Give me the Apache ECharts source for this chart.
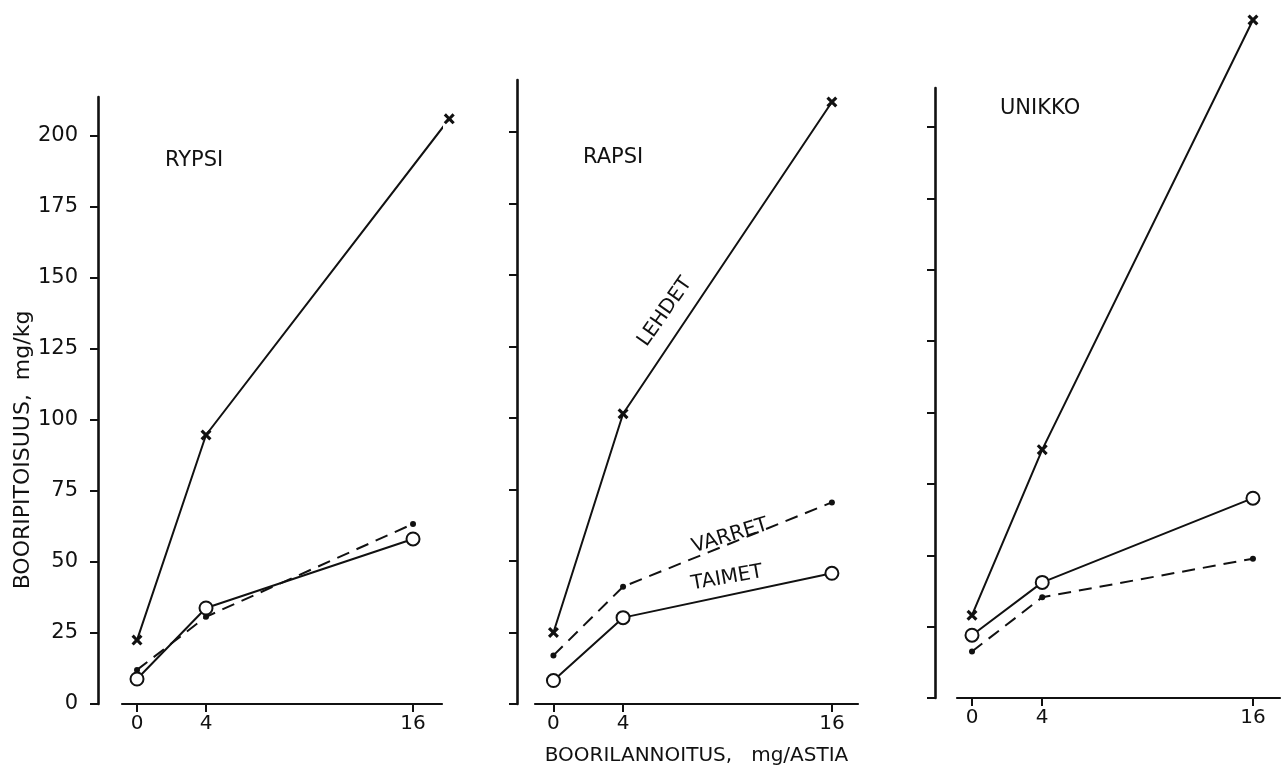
<!DOCTYPE html>
<html>
<head>
<meta charset="utf-8">
<script src="https://cdn.jsdelivr.net/npm/echarts@6/dist/echarts.min.js"></script>
<style>
html,body{margin:0;padding:0;background:#fff;}
#chart{width:1285px;height:771px;}
</style>
</head>
<body>
<div id="chart"></div>
<script>
// ---- data ----
const panelNames = ['RYPSI', 'RAPSI', 'UNIKKO'];
const doses = [0, 4, 16];
const rypsiLehdetDoses = [0, 4, 18.1]; // last RYPSI leaf point is drawn right of the 16 tick in the source
const xTickValues = [0, 4, 16];
const yTickValues = [0, 25, 50, 75, 100, 125, 150, 175, 200];

const rypsiLehdet = [22.5, 94.7, 206];
const rypsiVarret = [12, 30.7, 63.4];
const rypsiTaimet = [8.8, 33.8, 58.1];

const rapsiLehdet = [25, 101.5, 210.5];
const rapsiVarret = [17, 41, 70.5];
const rapsiTaimet = [8.2, 30.2, 45.7];

const unikkoLehdet = [29, 87, 237.5];
const unikkoVarret = [16.3, 35.3, 48.8];
const unikkoTaimet = [22, 40.5, 70];

const yName = 'BOORIPITOISUUS,  mg/kg';
const xName = 'BOORILANNOITUS,   mg/ASTIA';

// ---- styles / layout ----
const FONT = 'DejaVu Sans';
const INK = '#111';
const crossPath = 'path://M2,0 L5,3 L8,0 L10,2 L7,5 L10,8 L8,10 L5,7 L2,10 L0,8 L3,5 L0,2 Z';

const grids = [
  {left: 122, top: 97, width: 320, height: 607},
  {left: 535, top: 80, width: 323, height: 624},
  {left: 957, top: 88, width: 323, height: 610}
];
const xRanges = [[-0.87, 17.68], [-1.06, 17.5], [-0.854, 17.54]];
const yMax = [213.7, 218.2, 213.7];
const yOffsets = [24, 18, 22];

function pairs(xs, ys) { return xs.map((x, i) => [x, ys[i]]); }

const chart = echarts.init(document.getElementById('chart'), null, {renderer: 'canvas'});

const xAxes = grids.map((g, i) => ({
  type: 'value', gridIndex: i, min: xRanges[i][0], max: xRanges[i][1],
  splitLine: {show: false},
  axisLine: {show: true, onZero: false, lineStyle: {color: INK, width: 2.2}},
  axisTick: {show: true, customValues: xTickValues, length: 8, lineStyle: {color: INK, width: 2}},
  axisLabel: {show: true, customValues: xTickValues, margin: 10, color: INK, fontSize: 20, fontFamily: FONT},
  name: i === 1 ? xName : '', nameLocation: 'middle', nameGap: 42,
  nameTextStyle: {color: INK, fontSize: 20, fontFamily: FONT}
}));

const yAxes = grids.map((g, i) => ({
  type: 'value', gridIndex: i, min: 0, max: yMax[i], offset: yOffsets[i], position: 'left',
  splitLine: {show: false},
  axisLine: {show: true, onZero: false, lineStyle: {color: INK, width: 2.6}},
  axisTick: {show: true, customValues: yTickValues, length: 8, lineStyle: {color: INK, width: 2}},
  axisLabel: {show: i === 0, customValues: yTickValues, margin: 20, color: INK, fontSize: 21, fontFamily: FONT}
}));

function lehdetSeries(i, xs, ys) {
  return {type: 'line', xAxisIndex: i, yAxisIndex: i, data: pairs(xs, ys), clip: false,
    symbol: crossPath, symbolSize: 11, lineStyle: {color: INK, width: 2},
    itemStyle: {color: INK}, z: 3, silent: true};
}
function varretSeries(i, xs, ys) {
  return {type: 'line', xAxisIndex: i, yAxisIndex: i, data: pairs(xs, ys), clip: false,
    symbol: 'circle', symbolSize: 6, lineStyle: {color: INK, width: 2, type: [13, 8]},
    itemStyle: {color: INK}, z: 2, silent: true};
}
function taimetSeries(i, xs, ys) {
  return {type: 'line', xAxisIndex: i, yAxisIndex: i, data: pairs(xs, ys), clip: false,
    symbol: 'emptyCircle', symbolSize: 13, lineStyle: {color: INK, width: 2},
    itemStyle: {color: INK, borderColor: INK, borderWidth: 2.2}, z: 4, silent: true};
}

const series = [
  lehdetSeries(0, rypsiLehdetDoses, rypsiLehdet),
  varretSeries(0, doses, rypsiVarret),
  taimetSeries(0, doses, rypsiTaimet),
  lehdetSeries(1, doses, rapsiLehdet),
  varretSeries(1, doses, rapsiVarret),
  taimetSeries(1, doses, rapsiTaimet),
  lehdetSeries(2, doses, unikkoLehdet),
  varretSeries(2, doses, unikkoVarret),
  taimetSeries(2, doses, unikkoTaimet)
];

const titlePos = [[165, 150], [583, 147], [1000, 98]];
const titles = panelNames.map((t, i) => ({
  text: t, left: titlePos[i][0], top: titlePos[i][1], padding: 0,
  textStyle: {color: INK, fontSize: 21, fontWeight: 'normal', fontFamily: FONT}
}));

function txt(text, x, y, deg, size) {
  return {type: 'text', x: x, y: y, rotation: deg * Math.PI / 180, silent: true,
    style: {text: text, fill: INK, fontSize: size, fontFamily: FONT,
      align: 'center', verticalAlign: 'middle', textAlign: 'center', textVerticalAlign: 'middle'}};
}

const option = {
  backgroundColor: '#fff',
  animation: false,
  title: titles,
  grid: grids,
  xAxis: xAxes,
  yAxis: yAxes,
  series: series,
  graphic: [
    txt(yName, 23, 450, 90, 22),
    txt('LEHDET', 665, 312, 55, 20),
    txt('VARRET', 730, 536, 17, 20),
    txt('TAIMET', 727, 578, 10, 20)
  ]
};
chart.setOption(option);
</script>
</body>
</html>
